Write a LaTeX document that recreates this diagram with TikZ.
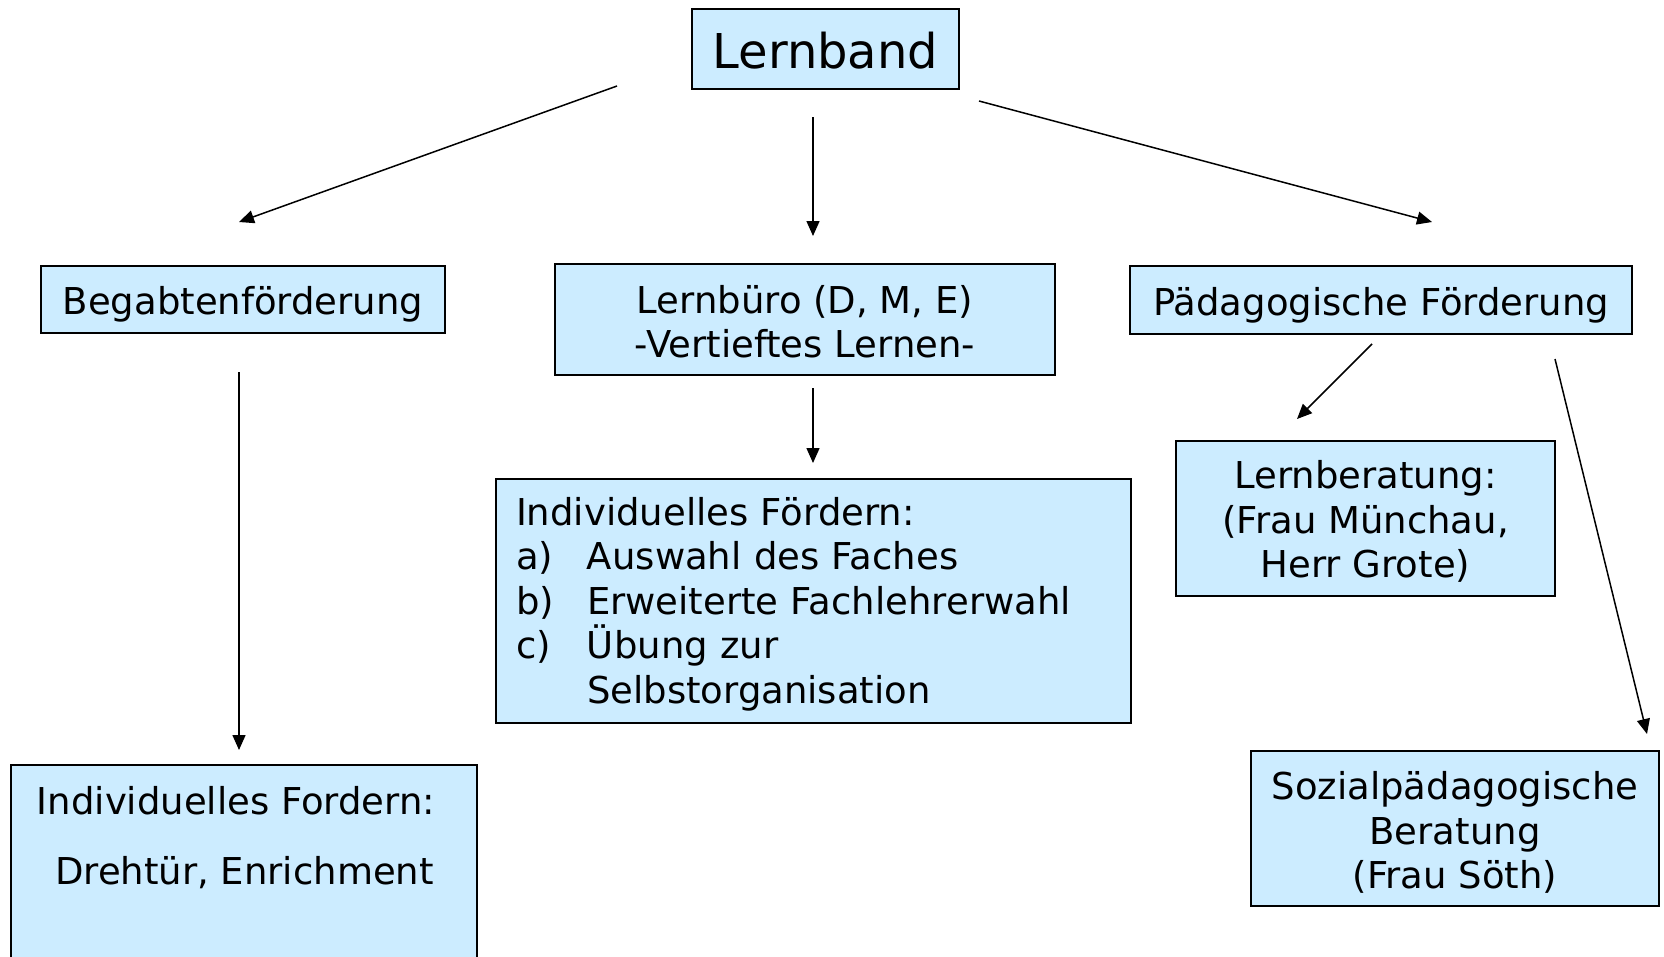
\documentclass[tikz,border=0pt]{standalone}
\usepackage{fontspec}
\setmainfont{DejaVu Sans}
\usetikzlibrary{arrows.meta}
\definecolor{boxfill}{RGB}{204,236,255}
\tikzset{
  box/.style={draw=black, line width=2pt, fill=boxfill, inner sep=0pt},
  plain/.style={inner sep=0pt, font=\fontsize{37}{44.6}\selectfont, align=center},
  arr/.style={line width=1.5pt, -{Triangle[length=15pt,width=13pt]}},
}
\begin{document}
\begin{tikzpicture}[x=1pt,y=-1pt]
\useasboundingbox (0,0) rectangle (1664,956);
\clip (0,0) rectangle (1664,956);
\fill[white] (0,0) rectangle (1664,956);

\node[box, minimum width=267pt, minimum height=80pt] (lernband) at (825.5,49) {};
\node[plain, font=\fontsize{48}{58}\selectfont, yshift=-2pt] (lernbandT) at (lernband) {Lernband};

\node[box, minimum width=404pt, minimum height=67pt] (begab) at (243,299.5) {};
\node[plain, yshift=-5pt] (begabT) at (begab) {Begabtenförderung};

\node[box, minimum width=500pt, minimum height=111pt] (lernbuero) at (805,319.5) {};
\node[plain, yshift=-2pt] (lernbueroT) at (lernbuero) {Lernbüro (D, M, E)\\-Vertieftes Lernen-};

\node[box, minimum width=502pt, minimum height=68pt] (paed) at (1381,300) {};
\node[plain, yshift=-5pt] (paedT) at (paed) {Pädagogische Förderung};

\node[box, minimum width=635pt, minimum height=244pt] (indfoerd) at (813.5,601) {};
\node[plain, text width=595pt, align=left, yshift=-3pt] (indfoerdT) at (indfoerd)
  {Individuelles Fördern:\\
   \makebox[71pt][l]{a)}Auswahl des Faches\\
   \makebox[71pt][l]{b)}Erweiterte Fachlehrerwahl\\
   \makebox[71pt][l]{c)}Übung zur\\
   \hspace*{71pt}Selbstorganisation};

\node[box, minimum width=379pt, minimum height=155pt] (lernber) at (1365.5,518.5) {};
\node[plain, yshift=-3pt] (lernberT) at (lernber) {Lernberatung:\\(Frau Münchau,\\Herr Grote)};

\node[box, minimum width=408pt, minimum height=155pt] (sozial) at (1455,828.5) {};
\node[plain, yshift=-4pt] (sozialT) at (sozial) {Sozialpädagogische\\Beratung\\(Frau Söth)};

\node[box, minimum width=466pt, minimum height=260pt] (indford) at (244,895) {};
\node[plain] (indfordA) at (236,801) {Individuelles Fordern:};
\node[plain] (indfordB) at (244.5,873) {Drehtür, Enrichment};

\coordinate (a1s) at (617,86);   \coordinate (a1e) at (239,222);
\coordinate (a2s) at (813,117);  \coordinate (a2e) at (813,236);
\coordinate (a3s) at (979,101);  \coordinate (a3e) at (1432,222);
\coordinate (a4s) at (239,372);  \coordinate (a4e) at (239,750);
\coordinate (a5s) at (813,388);  \coordinate (a5e) at (813,463);
\coordinate (a6s) at (1372,344); \coordinate (a6e) at (1297,419);
\coordinate (a7s) at (1555,359); \coordinate (a7e) at (1647,734);

\draw[arr] (a1s) -- (a1e);
\draw[arr] (a2s) -- (a2e);
\draw[arr] (a3s) -- (a3e);
\draw[arr] (a4s) -- (a4e);
\draw[arr] (a5s) -- (a5e);
\draw[arr] (a6s) -- (a6e);
\draw[arr] (a7s) -- (a7e);
\end{tikzpicture}
\end{document}
